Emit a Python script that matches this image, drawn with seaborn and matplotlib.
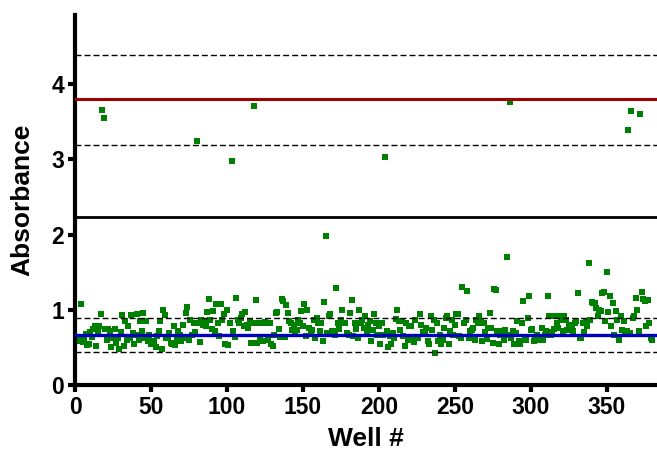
import numpy as np
import pandas as pd
import matplotlib
matplotlib.use("Agg")
import matplotlib.pyplot as plt
import seaborn as sns

# absorbance per well (wells 1-380, ten per line)
absorbance = [
    0.62, 0.58, 0.60, 1.08, 0.57, 0.62, 0.68, 0.53, 0.55, 0.70,
    0.64, 0.75, 0.78, 0.52, 0.72, 0.79, 0.95, 3.66, 3.55, 0.74,
    0.60, 0.74, 0.72, 0.50, 0.63, 0.75, 0.56, 0.62, 0.48, 0.70,
    0.93, 0.52, 0.85, 0.60, 0.78, 0.63, 0.93, 0.69, 0.55, 0.66,
    0.94, 0.60, 0.85, 0.72, 0.96, 0.63, 0.85, 0.58, 0.67, 0.55,
    0.54, 0.58, 0.51, 0.65, 0.72, 0.85, 0.48, 1.00, 0.93, 0.62,
    0.63, 0.69, 0.56, 0.54, 0.79, 0.53, 0.60, 0.72, 0.66, 0.58,
    0.80, 0.63, 0.96, 1.04, 0.60, 0.87, 0.67, 0.82, 0.70, 3.25,
    0.82, 0.57, 0.87, 0.80, 0.85, 0.78, 0.97, 1.14, 0.87, 0.75,
    0.98, 0.72, 1.08, 0.82, 0.65, 1.08, 0.87, 0.94, 0.55, 1.00,
    0.53, 0.82, 2.98, 0.72, 0.64, 1.16, 0.87, 0.82, 0.89, 0.95,
    0.78, 0.97, 0.80, 0.76, 0.85, 0.56, 0.82, 3.71, 1.13, 0.56,
    0.83, 0.60, 0.82, 0.58, 0.84, 0.82, 0.60, 0.82, 0.54, 0.52,
    0.67, 0.96, 0.97, 0.75, 0.64, 1.14, 1.12, 0.64, 1.07, 0.96,
    0.85, 0.82, 0.73, 0.80, 0.68, 0.73, 0.87, 0.82, 0.99, 0.78,
    1.08, 0.65, 1.00, 0.76, 0.70, 0.73, 0.87, 0.63, 0.89, 0.82,
    0.72, 0.82, 0.58, 1.10, 1.98, 0.69, 0.92, 0.94, 0.72, 0.72,
    0.67, 1.29, 0.82, 0.75, 0.86, 1.00, 0.82, 0.82, 0.69, 0.67,
    0.96, 1.13, 0.65, 0.83, 0.74, 0.63, 1.00, 0.82, 0.87, 0.76,
    0.92, 0.72, 0.80, 0.85, 0.58, 0.73, 0.95, 0.82, 0.67, 0.78,
    0.54, 0.83, 0.67, 3.03, 0.72, 0.50, 0.65, 0.54, 0.69, 0.62,
    0.88, 1.00, 0.85, 0.73, 0.85, 0.65, 0.52, 0.82, 0.60, 0.78,
    0.78, 0.63, 0.57, 0.87, 0.62, 0.63, 0.94, 0.80, 0.70, 0.68,
    0.76, 0.58, 0.54, 0.92, 0.73, 0.87, 0.42, 0.82, 0.58, 0.66,
    0.54, 0.60, 0.76, 0.89, 0.92, 0.54, 0.72, 0.87, 0.66, 0.80,
    0.95, 0.94, 0.65, 0.63, 1.30, 0.82, 0.87, 1.25, 0.63, 0.72,
    0.73, 0.76, 0.60, 0.87, 0.82, 0.92, 0.85, 0.58, 0.82, 0.70,
    0.61, 0.76, 0.96, 0.76, 0.56, 1.28, 1.26, 0.72, 0.54, 0.67,
    0.72, 0.60, 0.73, 1.70, 0.67, 3.76, 0.63, 0.72, 0.54, 0.69,
    0.85, 0.58, 0.54, 0.82, 1.12, 0.63, 0.60, 0.89, 1.18, 0.73,
    0.74, 0.58, 0.60, 0.66, 0.62, 0.60, 0.76, 0.60, 0.67, 0.72,
    1.18, 0.92, 0.67, 0.70, 0.74, 0.92, 0.82, 0.76, 0.92, 0.87,
    0.72, 0.92, 0.87, 0.73, 0.80, 0.80, 0.76, 0.72, 0.82, 0.85,
    1.22, 0.63, 0.63, 0.82, 0.70, 0.85, 0.79, 1.62, 0.87, 1.10,
    1.09, 1.09, 1.03, 0.92, 1.00, 0.98, 1.22, 1.24, 0.85, 1.50,
    0.97, 1.18, 0.78, 1.09, 0.67, 0.98, 0.87, 0.60, 0.92, 0.73,
    0.85, 0.72, 0.72, 3.39, 0.69, 3.65, 0.89, 0.92, 1.16, 1.00,
    0.72, 3.61, 1.24, 1.14, 1.12, 0.79, 1.13, 0.82, 0.63, 0.60,
]
wells = list(range(1, len(absorbance) + 1))

# reference lines: low mean +/- SD, high mean +/- SD, cutoff
low_mean = 0.665
low_band = [0.44, 0.89]
high_mean = 3.80
high_band = [3.19, 4.39]
cutoff = 2.23

df = pd.DataFrame({"well": wells, "absorbance": absorbance})

sns.set_style("ticks", {"axes.edgecolor": "black", "xtick.color": "black",
                        "ytick.color": "black", "text.color": "black",
                        "axes.labelcolor": "black"})
plt.rcParams["font.family"] = ["Liberation Sans", "DejaVu Sans"]
plt.rcParams["font.weight"] = "bold"

fig = plt.figure(figsize=(6.57, 4.5), dpi=100)
ax = fig.add_axes([75 / 657, 65 / 450, 1 - 75 / 657, 370 / 450])

sns.scatterplot(data=df, x="well", y="absorbance", ax=ax, marker="s",
                s=22, color="#008000", linewidth=0, zorder=2)

ax.axhline(high_mean, color="#a00000", lw=2.2, zorder=3)
ax.axhline(low_mean, color="#0000c0", lw=2.4, zorder=3)
ax.axhline(cutoff, color="black", lw=2.0, zorder=3)
for y in high_band + low_band:
    ax.axhline(y, color="black", lw=1.0, ls=(0, (4.3, 2.2)), zorder=3)

ax.set_xlim(0, 383)
ax.set_ylim(0, 4.92)
ax.set_xticks(range(0, 351, 50))
ax.set_yticks(range(0, 5))

ax.set_xlabel("Well #", fontsize=19, fontweight="bold", labelpad=6)
ax.set_ylabel("Absorbance", fontsize=19, fontweight="bold", labelpad=12)
ax.tick_params(axis="both", labelsize=16.5, width=3, length=5, pad=3,
               colors="black")
for lab in ax.get_xticklabels() + ax.get_yticklabels():
    lab.set_fontweight("bold")

sns.despine(ax=ax)
for side in ["left", "bottom"]:
    ax.spines[side].set_linewidth(3)
    ax.spines[side].set_color("black")

fig.savefig("out.png", dpi=100)
